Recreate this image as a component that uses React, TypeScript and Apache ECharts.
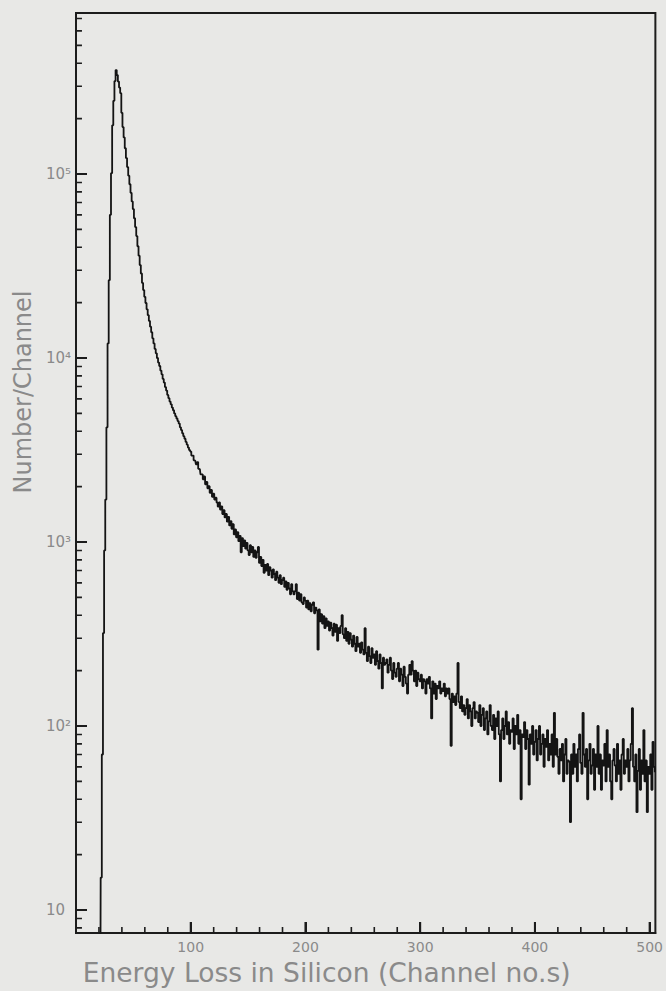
import React, { useEffect, useRef } from "react";
import * as echarts from "echarts";

// Channel counts, channel number = index (0..505)
const leadCounts = [1, 1, 1, 1, 1, 1, 1, 1, 1, 1, 1, 1, 1, 1, 1, 1, 1, 1, 1, 1, 1, 1];
const riseCounts = [15, 70, 320, 900, 1700, 4200, 12000, 26500, 60000, 101000, 184000, 250000, 320000, 367000];
const decayCounts = [
  345000, 318000, 295000, 275000, 215000, 180000, 158000, 138000, 122000, 109000,
  98000, 88000, 79000, 71000, 64500, 57500, 51500, 46000, 40500, 36000,
  32000, 28800, 25600, 23400, 21500, 19900, 18400, 17100, 15900, 14800,
  13800, 12800, 12000, 11200, 10600, 10000, 9450, 9050, 8550, 8150,
  7700, 7350, 6950, 6650, 6300, 6050, 5800, 5600, 5380, 5200,
  5000, 4830, 4690, 4540, 4400, 4200, 4060, 3900, 3760, 3640,
  3500, 3380, 3260, 3160,
];
const tailCountsA = [
  3100, 2950, 2950, 2780, 2760, 2640, 2720, 2500, 2480, 2330,
  2330, 2190, 2270, 2060, 2120, 1960, 2010, 1850, 1920, 1760,
  1830, 1700, 1740, 1640, 1560, 1640, 1500, 1560, 1420, 1490,
  1360, 1420, 1290, 1370, 1230, 1300, 1180, 1250, 1100, 1170,
  1060, 1130, 1010, 1080, 880, 1050, 950, 1020, 920, 990,
  900, 850, 960, 880, 940, 830, 900, 820, 880, 940,
  770, 830, 740, 800, 680, 750, 700, 760, 660, 730,
  700, 640, 710, 670, 620, 690, 640, 600, 660, 590,
  620, 640, 570, 610, 550, 600, 560, 520, 590, 540,
  520, 540, 590, 490, 530, 480, 520, 470, 460, 500,
];
const tailCountsB = [
  480, 440, 480, 430, 465, 420, 455, 470, 410, 440,
  425, 260, 430, 370, 405, 360, 395, 340, 385, 350,
  370, 330, 365, 340, 310, 360, 325, 355, 290, 340,
  320, 350, 400, 315, 300, 340, 290, 325, 280, 320,
  295, 270, 310, 280, 255, 305, 270, 280, 250, 285,
  260, 245, 340, 250, 225, 270, 240, 220, 265, 235,
  245, 215, 255, 225, 205, 245, 220, 160, 235, 215,
  220, 230, 195, 215, 235, 200, 180, 220, 195, 185,
  205, 220, 175, 205, 190, 165, 210, 185, 170, 150,
  190, 215, 190, 225, 200, 175, 200, 165, 195, 180,
];
const tailCountsC = [
  175, 190, 160, 180, 175, 150, 180, 170, 185, 160,
  110, 175, 150, 170, 140, 165, 160, 175, 150, 160,
  155, 170, 145, 160, 150, 160, 140, 78, 150, 135,
  145, 130, 150, 220, 135, 125, 145, 120, 130, 115,
  125, 140, 110, 130, 120, 100, 125, 135, 110, 120,
  118, 105, 130, 100, 115, 125, 95, 110, 120, 90,
  106, 130, 100, 95, 115, 85, 110, 100, 120, 90,
  50, 95, 110, 85, 100, 120, 90, 105, 80, 95,
  93, 110, 75, 100, 90, 115, 80, 95, 40, 90,
  87, 105, 75, 95, 85, 48, 90, 80, 100, 70,
];
const tailCountsD = [
  82, 95, 65, 85, 100, 70, 80, 90, 60, 85,
  77, 95, 65, 80, 70, 90, 60, 118, 70, 85,
  68, 55, 75, 65, 80, 50, 70, 85, 55, 65,
  64, 30, 70, 55, 80, 60, 70, 50, 75, 90,
  63, 55, 118, 70, 60, 75, 40, 65, 80, 55,
  61, 75, 45, 70, 60, 100, 55, 70, 45, 65,
  61, 80, 50, 95, 60, 70, 50, 40, 65, 75,
  61, 50, 80, 55, 65, 45, 70, 85, 55, 65,
  60, 75, 50, 65, 80, 125, 60, 50, 70, 34,
  57, 75, 45, 65, 55, 95, 50, 65, 34, 60,
  55, 70, 45, 82, 60, 56,
];

const xMajorTicks = [100, 200, 300, 400, 500];
const xMinorTicks = [20, 40, 60, 80, 120, 140, 160, 180, 220, 240, 260, 280, 320, 340, 360, 380, 420, 440, 460, 480];
const yMajorTicks = [10, 100, 1000, 10000, 100000];
const yTickLabels = ["10", "10²", "10³", "10⁴", "10⁵"];
const yMinorTicks = [
  8, 9,
  20, 30, 40, 50, 60, 70, 80, 90,
  200, 300, 400, 500, 600, 700, 800, 900,
  2000, 3000, 4000, 5000, 6000, 7000, 8000, 9000,
  20000, 30000, 40000, 50000, 60000, 70000, 80000, 90000,
  200000, 300000, 400000, 500000, 600000, 700000,
];

const xTitle = "Energy Loss in Silicon (Channel no.s)";
const yTitle = "Number/Channel";

const FONT = "DejaVu Sans";
const TEXT = "#8a8a8a";
const INK = "#1c1c1c";

export default function App() {
  const ref = useRef<HTMLDivElement>(null);
  useEffect(() => {
    if (!ref.current) return;
    const chart = echarts.init(ref.current, undefined, { renderer: "svg" });
    const counts = [...leadCounts, ...riseCounts, ...decayCounts, ...tailCountsA, ...tailCountsB, ...tailCountsC, ...tailCountsD];
    const data = counts.map((v, i) => [i, v]);
    const X_MIN = 0;
    const X_MAX = 505;
    const Y_MIN = 7.5;
    const Y_MAX = 750000;
    const GRID = { left: 76, right: 6, top: 13, bottom: 58 };
    const PLOT_W = 666 - GRID.left - GRID.right;
    const PLOT_H = 991 - GRID.top - GRID.bottom;
    const MAJOR = 11;
    const MINOR = 6;
    const xLen = (px: number) => (px * (X_MAX - X_MIN)) / PLOT_W;
    const yFac = (px: number) => Math.pow(10, (px * Math.log10(Y_MAX / Y_MIN)) / PLOT_H);
    const seg = (xs: number[], ys: number[], len: number) => {
      const out: any[] = [];
      xs.forEach((v) => {
        out.push([v, Y_MIN], [v, Y_MIN * yFac(len)], [v, null]);
      });
      ys.forEach((v) => {
        out.push([X_MIN, v], [X_MIN + xLen(len), v], [X_MIN, null]);
      });
      return out;
    };
    const majorTickData = seg(xMajorTicks, yMajorTicks, MAJOR);
    const minorTickData = seg(xMinorTicks, yMinorTicks, MINOR);
    const tickSeries = (d: any[], w: number) => ({
      type: "line",
      data: d,
      showSymbol: false,
      symbol: "none",
      connectNulls: false,
      clip: false,
      silent: true,
      z: 3,
      lineStyle: { color: INK, width: w },
    });
    chart.setOption({
      animation: false,
      backgroundColor: "#e8e8e6",
      textStyle: { fontFamily: FONT },
      grid: {
        ...GRID,
        show: true,
        borderColor: INK,
        borderWidth: 2,
        backgroundColor: "transparent",
        containLabel: false,
      },
      xAxis: {
        type: "value",
        position: "bottom",
        min: X_MIN,
        max: X_MAX,
        axisLine: { show: true, onZero: false, lineStyle: { color: INK, width: 2 } },
        splitLine: { show: false },
        axisTick: { show: true, inside: true, length: MAJOR, customValues: xMajorTicks, lineStyle: { color: INK, width: 2 } },
        axisLabel: { show: true, customValues: xMajorTicks, margin: 7, color: TEXT, fontSize: 14, fontFamily: FONT },
        name: xTitle,
        nameLocation: "middle",
        nameGap: 26,
        nameTextStyle: { color: TEXT, fontSize: 26.5, fontFamily: FONT, padding: [0, 78, 0, 0] },
      },
      yAxis: {
        type: "log",
        logBase: 10,
        position: "left",
        min: Y_MIN,
        max: Y_MAX,
        axisLine: { show: true, onZero: false, lineStyle: { color: INK, width: 2 } },
        splitLine: { show: false },
        axisTick: { show: true, inside: true, length: MAJOR, customValues: yMajorTicks, lineStyle: { color: INK, width: 2 } },
        axisLabel: {
          show: true,
          customValues: yMajorTicks,
          margin: 5,
          color: TEXT,
          fontSize: 15,
          fontFamily: FONT,
          formatter: (v: number) => {
            const idx = yMajorTicks.findIndex((t) => Math.abs(t - v) / t < 1e-6);
            const lab = idx >= 0 ? yTickLabels[idx] : String(v);
            return lab === "10" ? "10{h|⁰}" : lab;
          },
          rich: { h: { color: "transparent", fontSize: 15, fontFamily: FONT } },
        },
        name: yTitle,
        nameLocation: "middle",
        nameGap: 38,
        nameRotate: 90,
        nameTextStyle: { color: TEXT, fontSize: 24, fontFamily: FONT, padding: [0, 0, 0, 162] },
      },
      series: [
        {
          type: "line",
          data,
          step: "middle",
          showSymbol: false,
          symbol: "none",
          clip: true,
          lineStyle: { color: "#141414", width: 1.8 },
          silent: true,
          z: 2,
        },
        tickSeries(majorTickData, 2),
        tickSeries(minorTickData, 1.6),
      ],
    });
    return () => chart.dispose();
  }, []);
  return (
    <div
      ref={ref}
      style={{ position: "fixed", left: 0, top: 0, width: 666, height: 991, background: "#e8e8e6" }}
    />
  );
}
